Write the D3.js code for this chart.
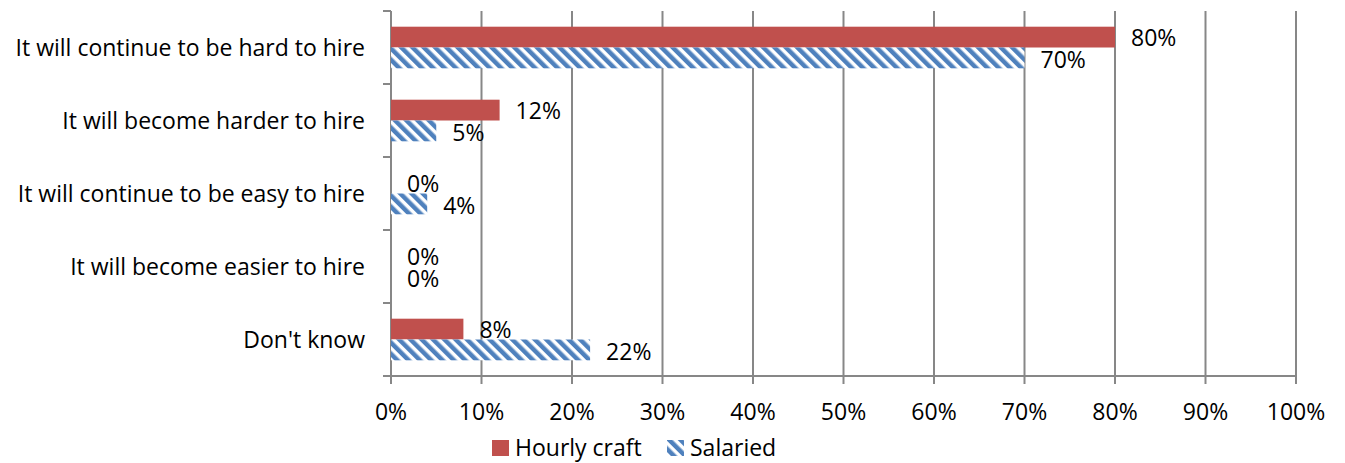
<!DOCTYPE html>
<html>
<head>
<meta charset="utf-8">
<script src="https://cdn.jsdelivr.net/npm/d3@7"></script>
<style>
body { margin: 0; background: #fff; }
text { font-family: "Open Sans", sans-serif; fill: #000; }
</style>
</head>
<body>
<div id="chart"></div>
<script>
var categories = ["It will continue to be hard to hire", "It will become harder to hire",
  "It will continue to be easy to hire", "It will become easier to hire", "Don't know"];
var hourly = [80, 12, 0, 0, 8];
var salaried = [70, 5, 4, 0, 22];
var ticks = [0, 10, 20, 30, 40, 50, 60, 70, 80, 90, 100];
var seriesNames = ["Hourly craft", "Salaried"];

var W = 1345, H = 463, fs = 23;
var svg = d3.select("#chart").append("svg").attr("width", W).attr("height", H);

var defs = svg.append("defs");
var pat = defs.append("pattern").attr("id", "stripes")
  .attr("patternUnits", "userSpaceOnUse").attr("width", 8).attr("height", 8)
  .attr("patternTransform", "rotate(-45)");
pat.append("rect").attr("width", 8).attr("height", 8).attr("fill", "#fff");
pat.append("rect").attr("width", 4.5).attr("height", 8).attr("fill", "#4f81bd");

var x = d3.scaleLinear().domain([0, 100]).range([391, 1296]);
var y = d3.scaleBand().domain(categories).range([11, 376]).paddingInner(0.43).paddingOuter(0.215);

// gridlines
svg.append("g").selectAll("line").data(ticks).join("line")
  .attr("x1", d => x(d)).attr("x2", d => x(d))
  .attr("y1", 11).attr("y2", 384)
  .attr("stroke", "#878787").attr("stroke-width", 2);

// left axis ticks
var yTicks = d3.range(categories.length + 1).map(i => 11 + i * y.step());
svg.append("g").selectAll("line").data(yTicks).join("line")
  .attr("x1", 383).attr("x2", 391).attr("y1", d => d).attr("y2", d => d)
  .attr("stroke", "#878787").attr("stroke-width", 2);
svg.append("line").attr("x1", 391).attr("x2", 1296).attr("y1", 376).attr("y2", 376)
  .attr("stroke", "#878787").attr("stroke-width", 2);

var bh = y.bandwidth() / 2;
var rows = categories.map((c, i) => ({ c: c, h: hourly[i], s: salaried[i] }));

svg.append("g").selectAll("rect").data(rows).join("rect")
  .attr("x", x(0)).attr("y", d => y(d.c)).attr("width", d => x(d.h) - x(0)).attr("height", bh)
  .attr("fill", "#c0504d");
svg.append("g").selectAll("rect").data(rows).join("rect")
  .attr("x", x(0)).attr("y", d => y(d.c) + bh).attr("width", d => x(d.s) - x(0)).attr("height", bh)
  .attr("fill", "url(#stripes)");

// value labels
svg.append("g").selectAll("text").data(rows).join("text")
  .attr("x", d => x(d.h) + 16).attr("y", d => y(d.c) + bh / 2 + 1)
  .attr("dy", "0.35em").attr("font-size", fs).text(d => d.h + "%");
svg.append("g").selectAll("text").data(rows).join("text")
  .attr("x", d => x(d.s) + 16).attr("y", d => y(d.c) + bh * 1.5 + 2)
  .attr("dy", "0.35em").attr("font-size", fs).text(d => d.s + "%");

// category labels
svg.append("g").selectAll("text").data(categories).join("text")
  .attr("x", 365).attr("y", d => y(d) + y.bandwidth() / 2)
  .attr("dy", "0.35em").attr("text-anchor", "end").attr("font-size", fs).text(d => d);

// x tick labels
svg.append("g").selectAll("text").data(ticks).join("text")
  .attr("x", d => x(d)).attr("y", 412).attr("dy", "0.35em")
  .attr("text-anchor", "middle").attr("font-size", fs).text(d => d + "%");

// legend
var lg = svg.append("g");
var lx = [492, 667];
lg.selectAll("rect").data(seriesNames).join("rect")
  .attr("x", (d, i) => lx[i]).attr("y", 440).attr("width", 17).attr("height", 16)
  .attr("fill", (d, i) => i === 0 ? "#c0504d" : "url(#stripes)");
lg.selectAll("text").data(seriesNames).join("text")
  .attr("x", (d, i) => lx[i] + 23).attr("y", 448).attr("dy", "0.35em")
  .attr("font-size", fs).text(d => d);
</script>
</body>
</html>
